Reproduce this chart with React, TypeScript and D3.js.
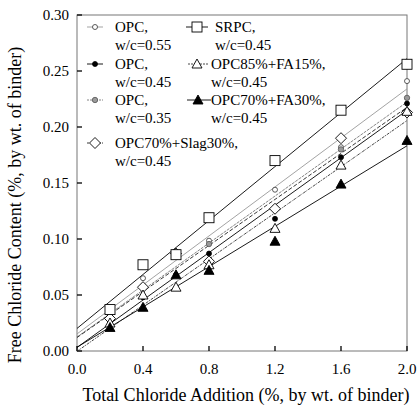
import React from "react";
import * as d3 from "d3";

const xValues = [0.2, 0.4, 0.6, 0.8, 1.2, 1.6, 2.0];
const opc55 = [0.032, 0.065, 0.088, 0.0985, 0.144, 0.182, 0.241];
const opc45 = [0.027, 0.048, 0.068, 0.087, 0.118, 0.173, 0.221];
const opc35 = [0.028, 0.058, 0.085, 0.0955, 0.128, 0.18, 0.226];
const srpc = [0.037, 0.077, 0.086, 0.119, 0.17, 0.215, 0.256];
const fa15 = [0.025, 0.05, 0.057, 0.077, 0.1095, 0.166, 0.214];
const fa30 = [0.021, 0.039, 0.068, 0.072, 0.098, 0.149, 0.188];
const slag30 = [0.029, 0.057, 0.087, 0.08, 0.127, 0.19, 0.213];

const xTicks = [0, 0.4, 0.8, 1.2, 1.6, 2.0];
const yTicks = [0, 0.05, 0.1, 0.15, 0.2, 0.25, 0.3];

const series = [
  { id: "opc55", label: ["OPC,", "w/c=0.55"], values: opc55, marker: "circle", fill: "#fff", stroke: "#333", r: 2.5, line: "#999", dash: "", lx: [87, 103, 95], tx: 115, ty: 32 },
  { id: "opc45", label: ["OPC,", "w/c=0.45"], values: opc45, marker: "circle", fill: "#000", stroke: "#000", r: 2.5, line: "#000", dash: "", lx: [87, 103, 95], tx: 115, ty: 69 },
  { id: "opc35", label: ["OPC,", "w/c=0.35"], values: opc35, marker: "circle", fill: "#999", stroke: "#555", r: 2.7, line: "#777", dash: "3,1", lx: [87, 103, 95], tx: 115, ty: 105 },
  { id: "slag30", label: ["OPC70%+Slag30%,", "w/c=0.45"], values: slag30, marker: "diamond", fill: "#fff", stroke: "#000", r: 5.5, line: "#222", dash: "4,2", lx: [87, 103, 95], tx: 115, ty: 148 },
  { id: "srpc", label: ["SRPC,", "w/c=0.45"], values: srpc, marker: "square", fill: "#fff", stroke: "#000", r: 5, line: "#000", dash: "", lx: [186, 208, 197], tx: 215, ty: 32 },
  { id: "fa15", label: ["OPC85%+FA15%,", "w/c=0.45"], values: fa15, marker: "triangle", fill: "#fff", stroke: "#000", r: 5, line: "#333", dash: "3,1,1,1", lx: [188, 208, 197], tx: 211, ty: 69 },
  { id: "fa30", label: ["OPC70%+FA30%,", "w/c=0.45"], values: fa30, marker: "triangle", fill: "#000", stroke: "#000", r: 5, line: "#000", dash: "", lx: [187, 211, 198], tx: 211, ty: 105 },
];

const font = "Liberation Serif";
const left = 77, right = 407, top = 15, bottom = 351;
const x = d3.scaleLinear().domain([0, 2]).range([left, right]);
const y = d3.scaleLinear().domain([0, 0.3]).range([bottom, top]);

function fit(vals) {
  const mx = d3.mean(xValues);
  const my = d3.mean(vals);
  let sxy = 0, sxx = 0;
  xValues.forEach((xv, i) => {
    sxy += (xv - mx) * (vals[i] - my);
    sxx += (xv - mx) * (xv - mx);
  });
  const b = sxy / sxx;
  return { a: my - b * mx, b };
}

function Marker({ s, cx, cy }) {
  const r = s.r;
  if (s.marker === "circle")
    return <circle cx={cx} cy={cy} r={r} fill={s.fill} stroke={s.stroke} strokeWidth={0.8} />;
  if (s.marker === "square")
    return <rect x={cx - r} y={cy - r} width={2 * r} height={2 * r} fill={s.fill} stroke={s.stroke} strokeWidth={0.9} />;
  if (s.marker === "diamond")
    return <path d={`M${cx},${cy - r}L${cx + r},${cy}L${cx},${cy + r}L${cx - r},${cy}Z`} fill={s.fill} stroke={s.stroke} strokeWidth={0.9} />;
  return <path d={`M${cx},${cy - r}L${cx + r},${cy + r * 0.8}L${cx - r},${cy + r * 0.8}Z`} fill={s.fill} stroke={s.stroke} strokeWidth={0.9} />;
}

export default function App() {
  const txt = { fontFamily: font, fill: "#000" };
  return (
    <svg width={418} height={409} style={{ position: "absolute", left: 0, top: 0, background: "#fff" }}>
      <rect x={left} y={top} width={right - left} height={bottom - top} fill="none" stroke="#777" strokeWidth={1} />

      {xTicks.map(t => (
        <g key={"x" + t}>
          <line x1={x(t)} x2={x(t)} y1={bottom} y2={bottom - 5} stroke="#000" strokeWidth={1.3} />
          <text x={x(t)} y={374} textAnchor="middle" style={{ ...txt, fontSize: "15px" }}>{d3.format(".1f")(t)}</text>
        </g>
      ))}
      {yTicks.map(t => (
        <g key={"y" + t}>
          <line x1={left} x2={left + 5} y1={y(t)} y2={y(t)} stroke="#000" strokeWidth={1.3} />
          <text x={69} y={y(t) + 5} textAnchor="end" style={{ ...txt, fontSize: "15px" }}>{d3.format(".2f")(t)}</text>
        </g>
      ))}

      {series.map(s => {
        const f = fit(s.values);
        const line = d3.line().x(d => x(d)).y(d => y(f.a + f.b * d));
        return <path key={"l" + s.id} d={line([0, 2])} fill="none" stroke={s.line} strokeWidth={0.9} strokeDasharray={s.dash} />;
      })}
      {series.map(s => (
        <g key={"m" + s.id}>
          {s.values.map((v, i) => <Marker key={i} s={s} cx={x(xValues[i])} cy={y(v)} />)}
        </g>
      ))}

      {series.map(s => (
        <g key={"g" + s.id}>
          <line x1={s.lx[0]} x2={s.lx[1]} y1={s.ty - 5} y2={s.ty - 5} stroke={s.line} strokeWidth={0.9} strokeDasharray={s.dash === "" ? "" : "2,1"} />
          <Marker s={s} cx={s.lx[2]} cy={s.ty - 5} />
          <text x={s.tx} y={s.ty} style={{ ...txt, fontSize: "15px" }}>{s.label[0]}</text>
          <text x={s.tx} y={s.ty + 17.5} style={{ ...txt, fontSize: "15px" }}>{s.label[1]}</text>
        </g>
      ))}

      <text x={246} y={401} textAnchor="middle" style={{ ...txt, fontSize: "18px" }}>Total Chloride Addition (%, by wt. of binder)</text>
      <text transform="translate(21,205) rotate(-90)" textAnchor="middle" style={{ ...txt, fontSize: "18px" }}>Free Chloride Content (%, by wt. of binder)</text>
    </svg>
  );
}
